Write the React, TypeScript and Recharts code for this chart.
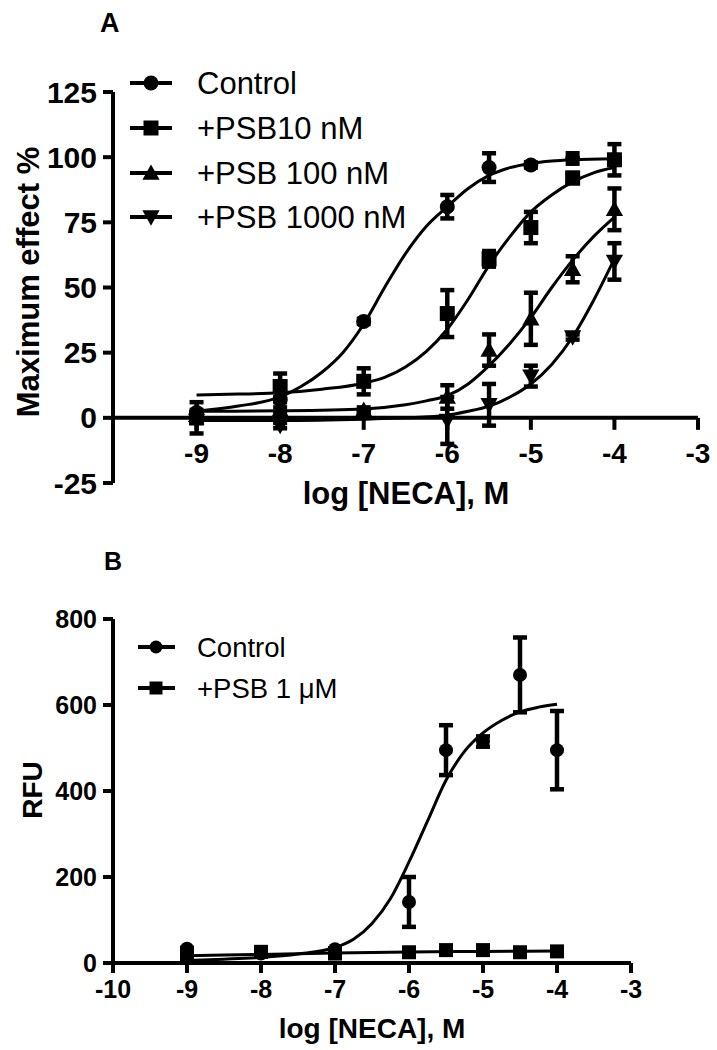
import React from 'react';
import { ComposedChart, Line, Scatter, XAxis, YAxis, ErrorBar, ReferenceLine, ReferenceDot } from 'recharts';

const FONT = '"Liberation Sans", Arial, Helvetica, sans-serif';

// ---- Panel A: % maximum effect ----
const aTicksX = [-9, -8, -7, -6, -5, -4, -3];
const aTicksY = [-25, 0, 25, 50, 75, 100, 125];
const aNames = ['Control', '+PSB10 nM', '+PSB 100 nM', '+PSB 1000 nM'];

const aControl = [
  { x: -9, y: 2, err: 1 }, { x: -8, y: 7, err: 1 }, { x: -7, y: 37, err: 1 },
  { x: -6, y: 81, err: 4.5 }, { x: -5.5, y: 96, err: 5.5 }, { x: -5, y: 97, err: 1 },
  { x: -4.5, y: 99.5, err: 2 }, { x: -4, y: 99, err: 1 },
];
const aPsb10 = [
  { x: -9, y: 0, err: 6 }, { x: -8, y: 12, err: 5 }, { x: -7, y: 14, err: 5 },
  { x: -6, y: 40, err: 9 }, { x: -5.5, y: 61, err: 3 }, { x: -5, y: 73, err: 6 },
  { x: -4.5, y: 92, err: 2 }, { x: -4, y: 99, err: 6 },
];
const aPsb100 = [
  { x: -9, y: 1, err: 1 }, { x: -8, y: 3, err: 1 }, { x: -7, y: 3, err: 1 },
  { x: -6, y: 8, err: 4.5 }, { x: -5.5, y: 26, err: 6 }, { x: -5, y: 38, err: 10 },
  { x: -4.5, y: 57, err: 5 }, { x: -4, y: 80, err: 8 },
];
const aPsb1000 = [
  { x: -9, y: -1, err: 1 }, { x: -8, y: -3, err: 1 }, { x: -7, y: 1, err: 1 },
  { x: -6, y: -1, err: 9 }, { x: -5.5, y: 5, err: 8 }, { x: -5, y: 16, err: 4 },
  { x: -4.5, y: 31, err: 1 }, { x: -4, y: 60, err: 7 },
];

// fitted curves
const aControlFit = [
  { x: -9, y: 2.5 }, { x: -8.5, y: 4.5 }, { x: -8, y: 8 }, { x: -7.75, y: 12 },
  { x: -7.5, y: 17.5 }, { x: -7.25, y: 25 }, { x: -7, y: 36 }, { x: -6.75, y: 50 },
  { x: -6.5, y: 63 }, { x: -6.25, y: 73.5 }, { x: -6, y: 81 }, { x: -5.75, y: 88 },
  { x: -5.5, y: 93 }, { x: -5.25, y: 96 }, { x: -5, y: 97.6 }, { x: -4.75, y: 98.5 },
  { x: -4.5, y: 99 }, { x: -4, y: 99.4 },
];
const aPsb10Fit = [
  { x: -9, y: 8.8 }, { x: -8.5, y: 9.1 }, { x: -8, y: 9.6 }, { x: -7.5, y: 11 },
  { x: -7, y: 13.3 }, { x: -6.75, y: 15.5 }, { x: -6.5, y: 19.5 }, { x: -6.25, y: 25.5 },
  { x: -6, y: 34 }, { x: -5.75, y: 45.5 }, { x: -5.5, y: 58.5 }, { x: -5.25, y: 69.5 },
  { x: -5, y: 79 }, { x: -4.75, y: 85.5 }, { x: -4.5, y: 90.5 }, { x: -4.25, y: 94 },
  { x: -4, y: 96 },
];
const aPsb100Fit = [
  { x: -9, y: 2.5 }, { x: -8, y: 2.7 }, { x: -7, y: 3.4 }, { x: -6.5, y: 5 },
  { x: -6.25, y: 6.5 }, { x: -6, y: 8.5 }, { x: -5.75, y: 13 }, { x: -5.5, y: 20 },
  { x: -5.25, y: 28.5 }, { x: -5, y: 38.5 }, { x: -4.75, y: 50 }, { x: -4.5, y: 60.5 },
  { x: -4.25, y: 69.5 }, { x: -4, y: 77 },
];
const aPsb1000Fit = [
  { x: -9, y: -1 }, { x: -8, y: -1 }, { x: -7, y: -0.5 }, { x: -6.5, y: 0 },
  { x: -6, y: 1 }, { x: -5.75, y: 2.5 }, { x: -5.5, y: 4.5 }, { x: -5.25, y: 8 },
  { x: -5, y: 13 }, { x: -4.75, y: 20.5 }, { x: -4.5, y: 31 }, { x: -4.25, y: 45 },
  { x: -4, y: 61 },
];

// ---- Panel B: RFU ----
const bTicksX = [-10, -9, -8, -7, -6, -5, -4, -3];
const bTicksY = [0, 200, 400, 600, 800];
const bNames = ['Control', '+PSB 1 \u03bcM'];

const bControl = [
  { x: -9, y: 33, err: 2 }, { x: -8, y: 22, err: 2 }, { x: -7, y: 32, err: 2 },
  { x: -6, y: 142, err: 58 }, { x: -5.5, y: 495, err: 58 }, { x: -5, y: 515, err: 12 },
  { x: -4.5, y: 670, err: 87 }, { x: -4, y: 495, err: 91 },
];
const bPsb = [
  { x: -9, y: 15, err: 2 }, { x: -8, y: 26, err: 2 }, { x: -7, y: 22, err: 2 },
  { x: -6, y: 25, err: 2 }, { x: -5.5, y: 30, err: 2 }, { x: -5, y: 30, err: 2 },
  { x: -4.5, y: 25, err: 2 }, { x: -4, y: 27, err: 2 },
];
const bControlFit = [
  { x: -9, y: 6 }, { x: -8.5, y: 9 }, { x: -8, y: 13 }, { x: -7.5, y: 21 },
  { x: -7, y: 36 }, { x: -6.75, y: 55 }, { x: -6.5, y: 92 }, { x: -6.25, y: 150 },
  { x: -6, y: 235 }, { x: -5.75, y: 330 }, { x: -5.5, y: 425 }, { x: -5.25, y: 492 },
  { x: -5, y: 535 }, { x: -4.75, y: 564 }, { x: -4.5, y: 584 }, { x: -4.25, y: 595 },
  { x: -4, y: 602 },
];
const bPsbFit = [
  { x: -9, y: 17 }, { x: -8, y: 20 }, { x: -7, y: 23 }, { x: -6, y: 25.5 },
  { x: -5, y: 27 }, { x: -4, y: 28 },
];

type Mark = 'circle' | 'square' | 'up' | 'down';

function drawMark(m: Mark, cx: number, cy: number, s = 7.5) {
  if (m === 'circle') return <circle cx={cx} cy={cy} r={s} fill="#000" />;
  if (m === 'square') return <rect x={cx - s} y={cy - s} width={2 * s} height={2 * s} fill="#000" />;
  if (m === 'up')
    return <polygon points={`${cx - s * 1.15},${cy + s * 0.9} ${cx + s * 1.15},${cy + s * 0.9} ${cx},${cy - s * 1.15}`} fill="#000" />;
  return <polygon points={`${cx - s * 1.15},${cy - s * 0.9} ${cx + s * 1.15},${cy - s * 0.9} ${cx},${cy + s * 1.15}`} fill="#000" />;
}

const markShape = (m: Mark, s: number) => (p: any) => drawMark(m, p.cx, p.cy, s);

const xTickA = (v: number) => (p: any) => (
  <g>
    <line x1={p.cx} y1={p.cy} x2={p.cx} y2={p.cy + 12} stroke="#000" strokeWidth={4} />
    <text x={p.cx} y={p.cy + 45} textAnchor="middle" fontSize={28} fontWeight="bold" fontFamily={FONT} fill="#000">
      {v}
    </text>
  </g>
);

const axisStroke = { stroke: '#000', strokeWidth: 4 };

function PanelA() {
  const series: [typeof aControl, Mark][] = [
    [aControl, 'circle'], [aPsb10, 'square'], [aPsb100, 'up'], [aPsb1000, 'down'],
  ];
  const fits = [aControlFit, aPsb10Fit, aPsb100Fit, aPsb1000Fit];
  return (
    <ComposedChart width={717} height={520} margin={{ top: 92, right: 19, left: 0, bottom: 37 }}>
      <XAxis type="number" dataKey="x" domain={[-10, -3]} hide />
      <YAxis
        type="number"
        dataKey="y"
        domain={[-25, 125]}
        ticks={aTicksY}
        interval={0}
        width={113}
        tickSize={10}
        tickMargin={6}
        axisLine={axisStroke}
        tickLine={axisStroke}
        tick={{ fill: '#000', fontSize: 30, fontWeight: 'bold', fontFamily: FONT }}
        allowDataOverflow
      />
      <ReferenceLine y={0} stroke="#000" strokeWidth={4} />
      {aTicksX.map((v) => (
        <ReferenceDot key={v} x={v} y={0} shape={xTickA(v)} />
      ))}
      {fits.map((d, i) => (
        <Line key={'f' + i} data={d} dataKey="y" type="monotone" stroke="#000" strokeWidth={3} dot={false} isAnimationActive={false} />
      ))}
      {series.map(([d, m], i) => (
        <Scatter key={'s' + i} data={d} shape={markShape(m, 7.5)} isAnimationActive={false}>
          <ErrorBar dataKey="err" direction="y" width={7} stroke="#000" strokeWidth={4.5} />
        </Scatter>
      ))}
    </ComposedChart>
  );
}

function PanelB() {
  return (
    <ComposedChart width={717} height={510} margin={{ top: 79, right: 86, left: 0, bottom: 27 }}>
      <XAxis
        type="number"
        dataKey="x"
        domain={[-10, -3]}
        ticks={bTicksX}
        interval={0}
        height={60}
        tickSize={10}
        tickMargin={7}
        axisLine={axisStroke}
        tickLine={axisStroke}
        tick={{ fill: '#000', fontSize: 25, fontWeight: 'bold', fontFamily: FONT }}
      />
      <YAxis
        type="number"
        dataKey="y"
        domain={[0, 800]}
        ticks={bTicksY}
        interval={0}
        width={113}
        tickSize={10}
        tickMargin={6}
        axisLine={axisStroke}
        tickLine={axisStroke}
        tick={{ fill: '#000', fontSize: 25, fontWeight: 'bold', fontFamily: FONT }}
        allowDataOverflow
      />
      <Line data={bControlFit} dataKey="y" type="monotone" stroke="#000" strokeWidth={3} dot={false} isAnimationActive={false} />
      <Line data={bPsbFit} dataKey="y" type="monotone" stroke="#000" strokeWidth={3} dot={false} isAnimationActive={false} />
      <Scatter data={bControl} shape={markShape('circle', 7)} isAnimationActive={false}>
        <ErrorBar dataKey="err" direction="y" width={7} stroke="#000" strokeWidth={4.5} />
      </Scatter>
      <Scatter data={bPsb} shape={markShape('square', 7)} isAnimationActive={false}>
        <ErrorBar dataKey="err" direction="y" width={7} stroke="#000" strokeWidth={4.5} />
      </Scatter>
    </ComposedChart>
  );
}

function Overlay() {
  const aMarks: Mark[] = ['circle', 'square', 'up', 'down'];
  const aRows = [83, 128, 173, 217];
  const bMarks: Mark[] = ['circle', 'square'];
  const bRows = [647, 688];
  const txt = { fontFamily: FONT, fill: '#000' };
  return (
    <svg width={717} height={1050} style={{ position: 'absolute', left: 0, top: 0, pointerEvents: 'none' }}>
      <text x={100} y={32} fontSize={27} fontWeight="bold" {...txt}>A</text>
      <text x={104} y={570} fontSize={25} fontWeight="bold" {...txt}>B</text>

      {aNames.map((n, i) => (
        <g key={n}>
          <line x1={130} x2={172} y1={aRows[i]} y2={aRows[i]} stroke="#000" strokeWidth={4} />
          {drawMark(aMarks[i], 151, aRows[i], 7.5)}
          <text x={197} y={aRows[i] + 11} fontSize={31} {...txt}>{n}</text>
        </g>
      ))}
      {bNames.map((n, i) => (
        <g key={n}>
          <line x1={138} x2={175} y1={bRows[i]} y2={bRows[i]} stroke="#000" strokeWidth={4} />
          {drawMark(bMarks[i], 156, bRows[i], 6.5)}
          <text x={197} y={bRows[i] + 10} fontSize={27.5} {...txt}>{n}</text>
        </g>
      ))}

      <text x={28} y={282} transform="rotate(-90 28 282)" textAnchor="middle" dominantBaseline="central" fontSize={31} fontWeight="bold" {...txt}>
        Maximum effect %
      </text>
      <text x={406} y={504} textAnchor="middle" fontSize={31} fontWeight="bold" {...txt}>log [NECA], M</text>

      <text x={32} y={790} transform="rotate(-90 32 790)" textAnchor="middle" dominantBaseline="central" fontSize={28} fontWeight="bold" {...txt}>
        RFU
      </text>
      <text x={372} y={1038} textAnchor="middle" fontSize={28} fontWeight="bold" {...txt}>log [NECA], M</text>
    </svg>
  );
}

export default function App() {
  return (
    <div style={{ position: 'absolute', left: 0, top: 0, width: 717, height: 1050, background: '#fff' }}>
      <div style={{ position: 'absolute', left: 0, top: 0 }}>
        <PanelA />
      </div>
      <div style={{ position: 'absolute', left: 0, top: 540 }}>
        <PanelB />
      </div>
      <Overlay />
    </div>
  );
}
